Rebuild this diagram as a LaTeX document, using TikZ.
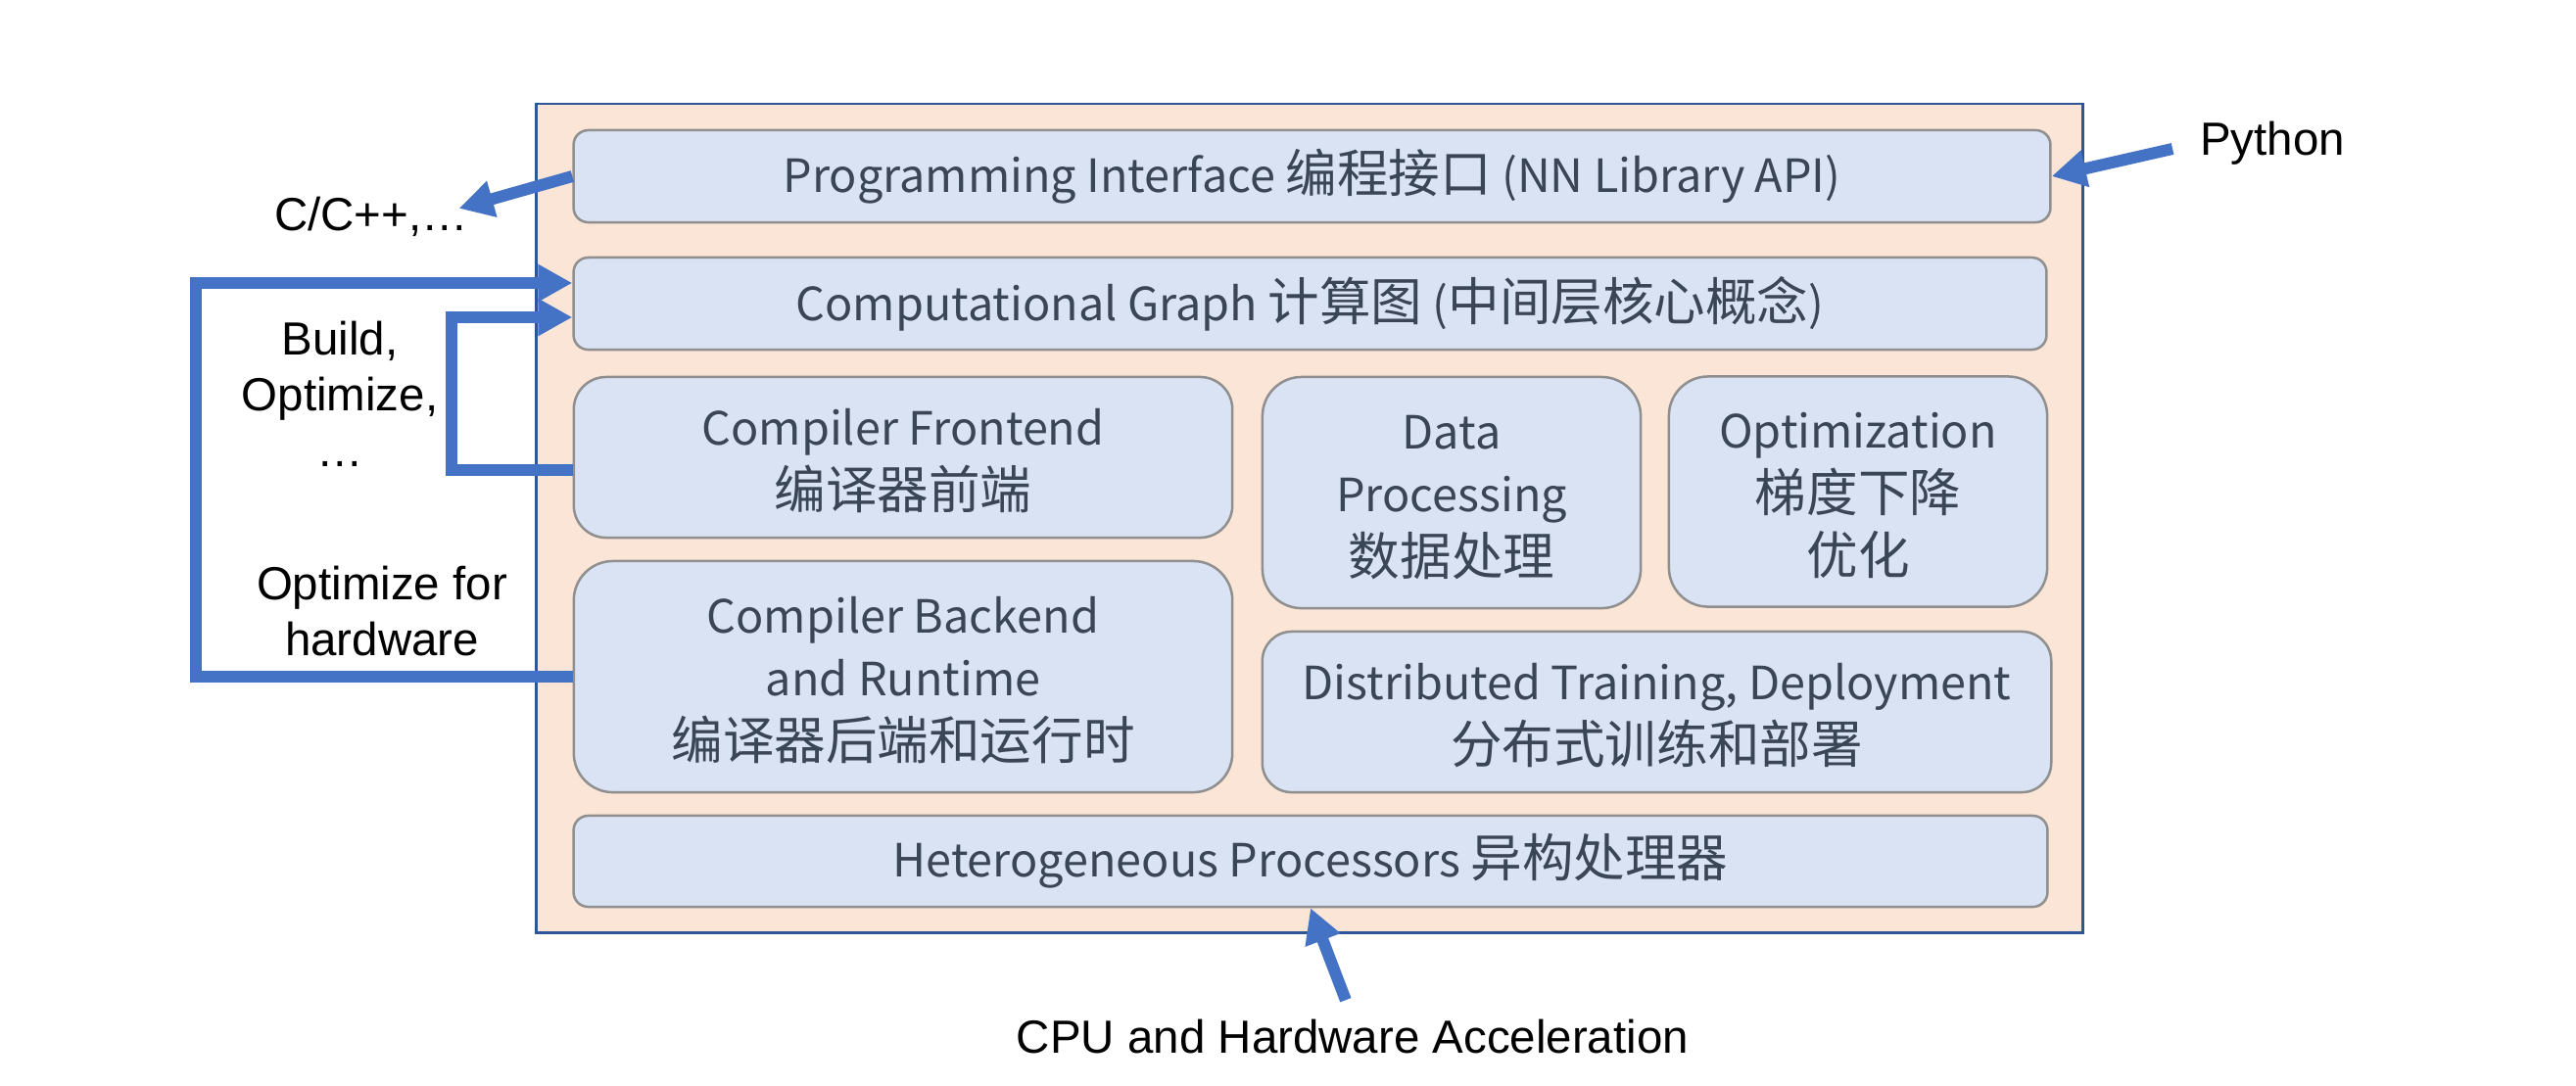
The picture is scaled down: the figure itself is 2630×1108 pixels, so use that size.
\documentclass[tikz,border=0pt]{standalone}
\usepackage{fontspec}
\usetikzlibrary{arrows.meta}
\newfontfamily\boxfont{Noto Sans CJK SC}
\newfontfamily\cjk[Scale=1.124]{Noto Sans CJK SC}
\newfontfamily\lblfont{Liberation Sans}
\newcommand\tpadx{\rule{0pt}{12.6pt}}
\definecolor{arrblue}{HTML}{4472C4}
\definecolor{frameblue}{HTML}{2F5597}
\definecolor{peach}{HTML}{FBE5D6}
\definecolor{boxfill}{HTML}{DAE3F3}
\definecolor{boxline}{HTML}{8F8F8F}
\definecolor{boxtext}{HTML}{3A4556}
\begin{document}
\begin{tikzpicture}[x=0.01cm,y=-0.01cm,
  layer/.style={draw=boxline, fill=boxfill, line width=0.025cm, text=boxtext,
    align=center, inner sep=0pt, rounded corners=#1,
    font=\boxfont\fontsize{13.3pt}{18.4pt}\selectfont},
  framebox/.style={draw=frameblue, fill=peach, line width=0.025cm, inner sep=0pt},
  lbl/.style={text=black, align=center, inner sep=0pt,
    font=\lblfont\fontsize{13.5pt}{16.2pt}\selectfont},
  conn/.style={draw=arrblue, line width=0.12cm, -{Triangle[length=0.35cm,width=0.36cm]}}
]
\fill[white] (0,0) rectangle (2630,1108);
\useasboundingbox (0,0) rectangle (2630,1108);

% container
\node[framebox, minimum width=15.78cm, minimum height=8.46cm] (frame) at (1337,529) {};

% layers
\node[layer=0.15cm, minimum width=15.07cm, minimum height=0.94cm] (pi) at (1339.5,180)
  {Programming Interface {\cjk 编程接口} (NN Library API)};
\node[layer=0.15cm, minimum width=15.03cm, minimum height=0.94cm] (cg) at (1337.5,310)
  {Computational Graph {\cjk 计算图} ({\cjk 中间层核心概念})};
\node[layer=0.33cm, minimum width=6.72cm, minimum height=1.64cm] (fe) at (922,467)
  {\tpadx Compiler Frontend\\{\cjk 编译器前端}};
\node[layer=0.40cm, minimum width=6.72cm, minimum height=2.36cm] (be) at (922,691)
  {\tpadx Compiler Backend\\and Runtime\\{\cjk 编译器后端和运行时}};
\node[layer=0.40cm, minimum width=3.86cm, minimum height=2.36cm] (dp) at (1482,503)
  {\tpadx Data\\Processing\\{\cjk 数据处理}};
\node[layer=0.40cm, minimum width=3.86cm, minimum height=2.35cm] (opt) at (1897,502)
  {\tpadx Optimization\\{\cjk 梯度下降}\\{\cjk 优化}};
\node[layer=0.30cm, minimum width=8.05cm, minimum height=1.64cm] (dist) at (1691.5,727)
  {\tpadx Distributed Training, Deployment\\{\cjk 分布式训练和部署}};
\node[layer=0.15cm, minimum width=15.04cm, minimum height=0.93cm] (het) at (1338,879.5)
  {Heterogeneous Processors {\cjk 异构处理器}};

% outside labels
\node[lbl, anchor=base] (cpp) at (379,235) {C/C++,…};
\node[lbl, anchor=base] (py) at (2320,158) {Python};
\node[lbl, anchor=base] (cpu) at (1381,1075) {CPU and Hardware Acceleration};
\node[lbl, anchor=north] (bo) at (347,327) {Build,\\Optimize,\\…};
\node[lbl, anchor=north] (ofh) at (390,577) {Optimize for\\hardware};

% connectors
\draw[conn] (be.west) -- ++(-385,0) |- ([yshift=0.21cm]cg.west);
\draw[conn] ([yshift=-0.13cm]fe.west) -- ++(-124,0) |- ([yshift=-0.14cm]cg.west);
\draw[conn, shorten <=0.28cm] (py.west) -- (pi.east);
\draw[conn] (pi.west) -- ([xshift=-0.1cm,yshift=0.08cm]cpp.east);
\draw[conn, shorten <=0.2cm] (cpu.north) -- (het.south);
\end{tikzpicture}
\end{document}
